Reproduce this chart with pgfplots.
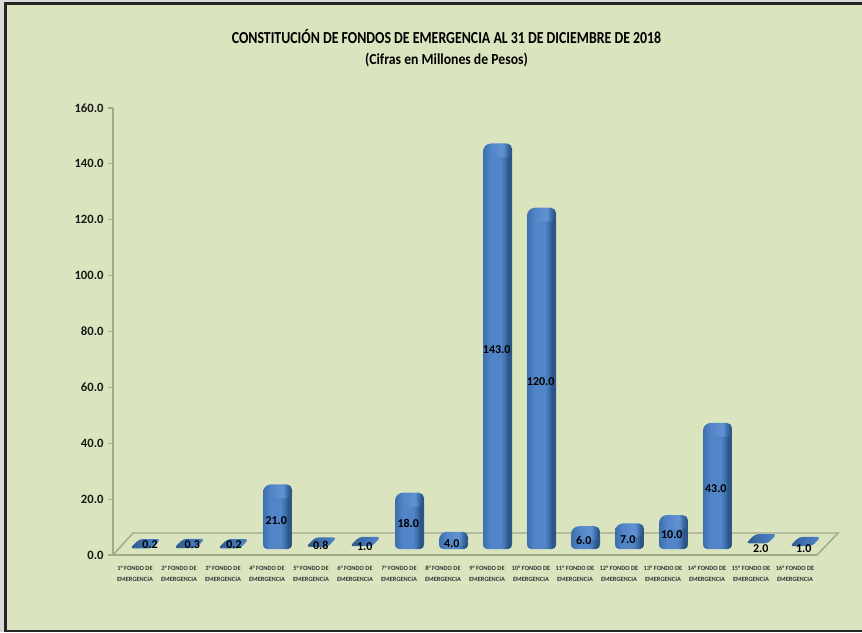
\documentclass[border=0pt]{standalone}
\usepackage{fontspec}
\setmainfont{Carlito}
\usepackage{pgfplots}
\usepackage{pgfplotstable}
\pgfplotsset{compat=1.18}

\definecolor{fondo}{HTML}{DAE4BE}
\definecolor{marco}{HTML}{A3A88E}
\definecolor{azulA}{HTML}{3E6EAC}
\definecolor{azulB}{HTML}{5185C8}
\definecolor{azulC}{HTML}{2C5687}
\definecolor{azulD}{HTML}{5F90CF}

% body of a bar: front face, then the darker side
\pgfdeclarehorizontalshading{cuerpo}{100bp}{color(0bp)=(azulA); color(25bp)=(azulA); color(38bp)=(azulB);
  color(56bp)=(azulB); color(63bp)=(azulA); color(68bp)=(azulC); color(75bp)=(azulC); color(100bp)=(azulC)}
% the top of a bar, with its light patch
\pgfdeclarehorizontalshading{tapa}{100bp}{color(0bp)=(azulA); color(25bp)=(azulA); color(38bp)=(azulB);
  color(54bp)=(azulD); color(60bp)=(azulD); color(66bp)=(azulA); color(72bp)=(azulC); color(100bp)=(azulC)}
% the nearly flat bars
\pgfdeclarehorizontalshading{plano}{100bp}{color(0bp)=(azulC); color(25bp)=(azulC); color(45bp)=(azulA);
  color(75bp)=(azulB); color(100bp)=(azulB)}

% x = category, v = value
\pgfplotstableread{
x v
0 0.2
1 0.3
2 0.2
3 21
4 0.8
5 1
6 18
7 4
8 143
9 120
10 6
11 7
12 10
13 43
14 2
15 1
}\fondos

% where each value label sits
\pgfplotstableread{
lx ly v
0.34 1.4 0.2
1.30 1.4 0.3
2.25 1.4 0.2
3.21 10 21
4.22 1.4 0.8
5.22 1 1
6.21 9 18
7.20 2 4
8.22 71.5 143
9.22 60 120
10.20 3 6
11.20 3.5 7
12.20 5 10
13.20 21.5 43
14.22 0.3 2
15.20 0 1
}\etiquetas

% a shaded path keeps its round corners only if they are worked out first
\makeatletter
\newcommand\redondear{\pgfsyssoftpath@getcurrentpath\caminotmp
  \pgfprocessround\caminotmp\caminotmp
  \pgfsyssoftpath@setcurrentpath\caminotmp}
\makeatother

\pgfdeclareplotmark{barcap}{%
  \pgfsetcornersarced{\pgfpoint{6pt}{6pt}}%
  \pgfpathmoveto{\pgfpoint{-8.25pt}{-6pt}}%
  \pgfpathlineto{\pgfpoint{-8.25pt}{4.5pt}}%
  \pgfsetcornersarced{\pgfpoint{4pt}{4pt}}%
  \pgfpathlineto{\pgfpoint{13.5pt}{4.5pt}}%
  \pgfpathlineto{\pgfpoint{13.5pt}{-6pt}}%
  \pgfpathclose
  \redondear
  \pgfshadepath{tapa}{0}%
  \pgfusepath{discard}%
}
\pgfdeclareplotmark{flatcap}{%
  \pgfsetcornersarced{\pgfpoint{2.5pt}{2.5pt}}%
  \pgfpathmoveto{\pgfpoint{-9pt}{0pt}}%
  \pgfpathlineto{\pgfpoint{7.5pt}{0pt}}%
  \pgfpathlineto{\pgfpoint{14pt}{7pt}}%
  \pgfpathlineto{\pgfpoint{-2pt}{7pt}}%
  \pgfpathclose
  \redondear
  \pgfshadepath{plano}{0}%
  \pgfusepath{discard}%
}

\begin{document}
\begin{tikzpicture}[x=0.75pt,y=0.75pt]
  \useasboundingbox (0,0) rectangle (862,632);
  \fill[fondo] (0,0) rectangle (862,632);
  % photo frame
  \fill[black!85] (0,0) rectangle (7,632);
  \fill[black!85] (0,627) rectangle (862,632);
  \fill[black!85] (0,0) rectangle (862,2);
  \fill[black!15] (0,630) rectangle (862,632);
  \fill[black!15] (0,0) rectangle (4,632);

  \node[font=\bfseries\fontsize{12.6pt}{14pt}\selectfont] at (446.5,595) {\scalebox{0.825}[1]{CONSTITUCIÓN DE FONDOS DE EMERGENCIA AL 31 DE DICIEMBRE DE 2018}};
  \node[font=\bfseries\fontsize{11.5pt}{14pt}\selectfont] at (446.5,572) {\scalebox{0.895}[1]{(Cifras en Millones de Pesos)}};

  % floor of the 3D plot
  \draw[marco,line width=1.1pt] (113,77) -- (133,99) -- (838,99) -- (817,77);

  \begin{axis}[
    at={(84.75pt,57.75pt)}, anchor=south west,
    scale only axis,
    width=528pt, height=335.25pt,
    xmin=-0.5, xmax=15.5,
    ymin=0, ymax=160,
    clip=false,
    axis lines*=left,
    axis line style={marco,line width=1.1pt,-},
    tick style={marco,line width=0.8pt},
    tick align=outside,
    major tick length=3.5pt,
    ytick={0,20,...,160},
    xtick={0,...,15},
    xticklabels={1° FONDO DE\\EMERGENCIA,2° FONDO DE\\EMERGENCIA,3° FONDO DE\\EMERGENCIA,4° FONDO DE\\EMERGENCIA,
      5° FONDO DE\\EMERGENCIA,6° FONDO DE\\EMERGENCIA,7° FONDO DE\\EMERGENCIA,8° FONDO DE\\EMERGENCIA,
      9° FONDO DE\\EMERGENCIA,10° FONDO DE\\EMERGENCIA,11° FONDO DE\\EMERGENCIA,12° FONDO DE\\EMERGENCIA,
      13° FONDO DE\\EMERGENCIA,14° FONDO DE\\EMERGENCIA,15° FONDO DE\\EMERGENCIA,16° FONDO DE\\EMERGENCIA},
    x tick style={draw=none},
    minor xtick={-0.5,0.5,...,15.5},
    minor x tick style={marco,line width=0.8pt},
    minor tick length=2.5pt,
    xticklabel style={font=\bfseries\fontsize{4.8pt}{8.2pt}\selectfont,align=center,text=black!80,yshift=-1pt},
    yticklabel style={font=\bfseries\fontsize{9.5pt}{12pt}\selectfont,text=black!90,
      /pgf/number format/fixed,/pgf/number format/precision=1,/pgf/number format/fixed zerofill,
      /pgf/number format/assume math mode=true},
    scaled y ticks=false,
  ]
    % bar bodies, one plot each so that each gets the whole shading
    \pgfplotsinvokeforeach{3,6,7,8,9,10,11,12,13}{
      \addplot[ybar,bar width=21.75pt,bar shift=0pt,xshift=7.875pt,yshift=4.5pt,
        restrict x to domain=#1:#1,
        rounded corners=3pt,draw=none,shade,shading=cuerpo] table[x=x,y=v] {\fondos};
    }
    % rounded tops
    \addplot[only marks,mark=barcap,xshift=5.25pt,yshift=4.5pt,
      restrict y to domain=3:200,
      mark options={draw=none}] table[x=x,y=v] {\fondos};
    % nearly flat bars
    \addplot[only marks,mark=flatcap,xshift=5.25pt,yshift=4.5pt,
      restrict y to domain=0:2.5,
      mark options={draw=none}] table[x=x,y=v] {\fondos};
    % value labels
    \addplot[only marks,mark=none,yshift=4.5pt,
      point meta=explicit,
      nodes near coords,
      nodes near coords style={anchor=center,inner sep=0pt,text=black,
        font=\bfseries\fontsize{9pt}{10pt}\selectfont,
        /pgf/number format/fixed,/pgf/number format/precision=1,/pgf/number format/fixed zerofill,
        /pgf/number format/assume math mode=true},
    ] table[x=lx,y=ly,meta=v] {\etiquetas};
  \end{axis}
\end{tikzpicture}
\end{document}
